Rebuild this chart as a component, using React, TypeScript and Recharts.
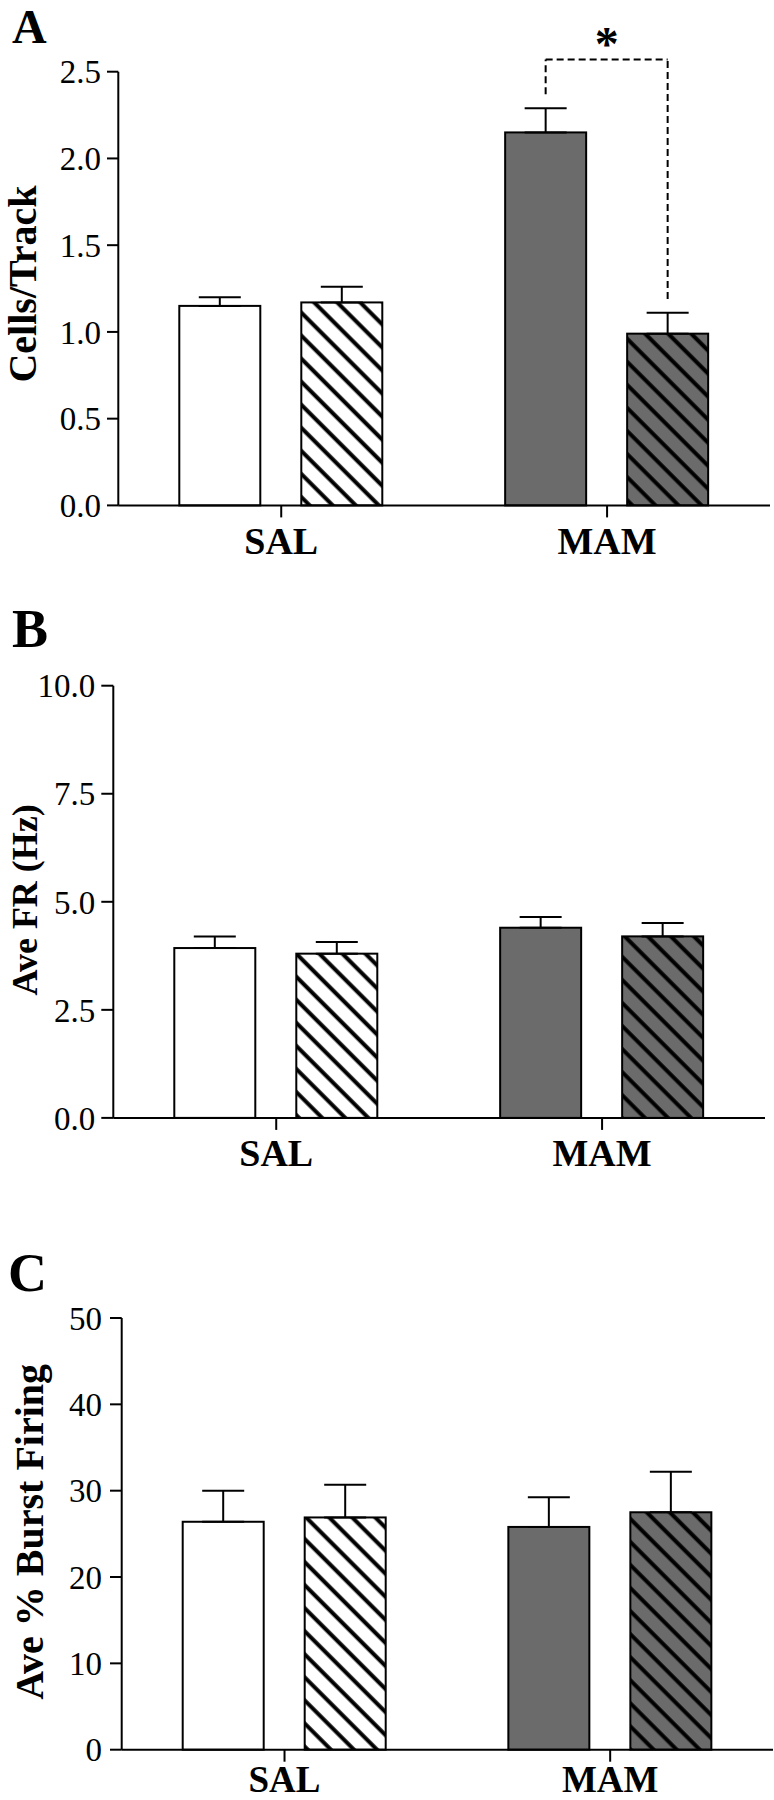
import { Bar, BarChart, ErrorBar, XAxis, YAxis } from "recharts";

const SERIF = "'Liberation Serif', serif";
const GRAY = "#6b6b6b";

const GROUPS = ["SAL", "MAM"];

// panel A: cells per track
const CELLS_CTRL = [1.15, 2.15];
const CELLS_CTRL_SEM = [0.05, 0.14];
const CELLS_DRUG = [1.17, 0.99];
const CELLS_DRUG_SEM = [0.09, 0.12];
const CELLS_TICKS = [0, 0.5, 1, 1.5, 2, 2.5];

// panel B: average firing rate
const FR_CTRL = [3.93, 4.4];
const FR_CTRL_SEM = [0.27, 0.25];
const FR_DRUG = [3.8, 4.2];
const FR_DRUG_SEM = [0.27, 0.31];
const FR_TICKS = [0, 2.5, 5, 7.5, 10];

// panel C: % burst firing
const BURST_CTRL = [26.4, 25.8];
const BURST_CTRL_SEM = [3.6, 3.45];
const BURST_DRUG = [26.9, 27.5];
const BURST_DRUG_SEM = [3.8, 4.7];
const BURST_TICKS = [0, 10, 20, 30, 40, 50];

// significance bracket in panel A (MAM ctrl vs MAM drug)
const SIG_GROUP = "MAM";
const SIG_TOP = 2.57;
const SIG_LEGS = [2.37, 1.19];
const SIG_MARK = "*";

const BAR_SIZE = 81;
const BAR_GAP = 41;

const CTRL_FILLS = ["#ffffff", GRAY];
const DRUG_FILLS = ["url(#hatch-white)", "url(#hatch-gray)"];

type Sig = { group: string; top: number; legs: number[]; mark: string };

function buildRows(ctrl: number[], ctrlSem: number[], drug: number[], drugSem: number[]) {
  return GROUPS.map((g, i) => ({
    group: g,
    ctrl: ctrl[i],
    ctrlErr: [0, ctrlSem[i]],
    drug: drug[i],
    drugErr: [0, drugSem[i]],
  }));
}

const dashed = { stroke: "#000", strokeWidth: 2, strokeDasharray: "7 4", fill: "none" };

function barShape(fills: string[], key: string, side: 0 | 1, sig?: Sig) {
  return (p: any) => {
    const { x, y, width, height, index, payload } = p;
    const val = payload[key];
    const base = y + height;
    const toPx = (v: number) => base - (v * height) / val;
    const cx = x + width / 2;
    const showSig = sig && payload.group === sig.group;
    return (
      <g>
        <rect x={x} y={y} width={width} height={height} fill={fills[index]} stroke="#000" strokeWidth={2} />
        {showSig && (
          <line x1={cx} y1={toPx(sig!.legs[side])} x2={cx} y2={toPx(sig!.top)} {...dashed} />
        )}
        {showSig && side === 0 && (
          <>
            <line x1={cx} y1={toPx(sig!.top)} x2={cx + width + BAR_GAP} y2={toPx(sig!.top)} {...dashed} />
            <text
              x={cx + (width + BAR_GAP) / 2}
              y={toPx(sig!.top)}
              textAnchor="middle"
              fontFamily={SERIF}
              fontWeight="bold"
              fontSize={48}
              fill="#000"
            >
              {sig!.mark}
            </text>
          </>
        )}
      </g>
    );
  };
}

function yLabel(text: string, size: number, bx: number, shift: number) {
  return (props: any) => {
    const vb = props.viewBox;
    const x = vb.x + bx;
    const cy = vb.y + vb.height / 2 + shift;
    return (
      <text
        x={x}
        y={cy}
        transform={`rotate(-90 ${x} ${cy})`}
        textAnchor="middle"
        fontFamily={SERIF}
        fontWeight="bold"
        fontSize={size}
        fill="#000"
      >
        {text}
      </text>
    );
  };
}

type PanelProps = {
  top: number;
  height: number;
  marginTop: number;
  marginRight: number;
  xHeight: number;
  xTickMargin: number;
  xFont: number;
  yWidth: number;
  yTickSize: number;
  yTickMargin: number;
  ticks: number[];
  digits: number;
  rows: any[];
  label: string;
  labelSize: number;
  labelX: number;
  labelShift: number;
  sig?: Sig;
};

function Panel(props: PanelProps) {
  const axisStyle = { stroke: "#000", strokeWidth: 2 };
  return (
    <div style={{ position: "absolute", left: 0, top: props.top }}>
      <BarChart
        width={774}
        height={props.height}
        data={props.rows}
        margin={{ top: props.marginTop, right: props.marginRight, bottom: 0, left: 0 }}
        barSize={BAR_SIZE}
        barGap={BAR_GAP}
      >
        <XAxis
          dataKey="group"
          height={props.xHeight}
          interval={0}
          axisLine={axisStyle}
          tickLine={axisStyle}
          tickSize={12}
          tickMargin={props.xTickMargin}
          tick={{ fontSize: props.xFont, fontWeight: "bold", fill: "#000", fontFamily: SERIF }}
        />
        <YAxis
          width={props.yWidth}
          domain={[props.ticks[0], props.ticks[props.ticks.length - 1]]}
          ticks={props.ticks}
          interval={0}
          tickFormatter={(v: number) => v.toFixed(props.digits)}
          axisLine={axisStyle}
          tickLine={axisStyle}
          tickSize={props.yTickSize}
          tickMargin={props.yTickMargin}
          tick={{ fontSize: 33, fill: "#000", fontFamily: SERIF }}
          label={yLabel(props.label, props.labelSize, props.labelX, props.labelShift)}
        />
        <Bar dataKey="ctrl" isAnimationActive={false} shape={barShape(CTRL_FILLS, "ctrl", 0, props.sig)}>
          <ErrorBar dataKey="ctrlErr" width={21} stroke="#000" strokeWidth={2} isAnimationActive={false} />
        </Bar>
        <Bar dataKey="drug" isAnimationActive={false} shape={barShape(DRUG_FILLS, "drug", 1, props.sig)}>
          <ErrorBar dataKey="drugErr" width={21} stroke="#000" strokeWidth={2} isAnimationActive={false} />
        </Bar>
      </BarChart>
    </div>
  );
}

export default function App() {
  const letter = { fontFamily: SERIF, fontWeight: "bold" as const, fill: "#000" };
  return (
    <div style={{ position: "absolute", left: 0, top: 0, width: 774, height: 1800, background: "#fff" }}>
      <svg width={0} height={0} style={{ position: "absolute" }}>
        <defs>
          <pattern id="hatch-white" patternUnits="userSpaceOnUse" width={16.3} height={16.3} patternTransform="rotate(45)">
            <rect width={16.3} height={16.3} fill="#ffffff" />
            <line x1={0} y1={8} x2={16.3} y2={8} stroke="#000" strokeWidth={4} />
          </pattern>
          <pattern id="hatch-gray" patternUnits="userSpaceOnUse" width={16.3} height={16.3} patternTransform="rotate(45)">
            <rect width={16.3} height={16.3} fill={GRAY} />
            <line x1={0} y1={8} x2={16.3} y2={8} stroke="#000" strokeWidth={4} />
          </pattern>
        </defs>
      </svg>

      <Panel
        top={0}
        height={580}
        marginTop={71.7}
        marginRight={4}
        xHeight={74.6}
        xTickMargin={9.6}
        xFont={38}
        yWidth={118.3}
        yTickSize={11.3}
        yTickMargin={6}
        ticks={CELLS_TICKS}
        digits={1}
        rows={buildRows(CELLS_CTRL, CELLS_CTRL_SEM, CELLS_DRUG, CELLS_DRUG_SEM)}
        label="Cells/Track"
        labelSize={40}
        labelX={36}
        labelShift={-4.5}
        sig={{ group: SIG_GROUP, top: SIG_TOP, legs: SIG_LEGS, mark: SIG_MARK }}
      />
      <Panel
        top={600}
        height={600}
        marginTop={85.7}
        marginRight={9}
        xHeight={82.1}
        xTickMargin={9.6}
        xFont={38}
        yWidth={113.3}
        yTickSize={12}
        yTickMargin={6}
        ticks={FR_TICKS}
        digits={1}
        rows={buildRows(FR_CTRL, FR_CTRL_SEM, FR_DRUG, FR_DRUG_SEM)}
        label="Ave FR (Hz)"
        labelSize={36}
        labelX={37}
        labelShift={-2}
      />
      <Panel
        top={1200}
        height={600}
        marginTop={118}
        marginRight={1}
        xHeight={50.3}
        xTickMargin={4}
        xFont={37}
        yWidth={121.7}
        yTickSize={11.7}
        yTickMargin={8}
        ticks={BURST_TICKS}
        digits={0}
        rows={buildRows(BURST_CTRL, BURST_CTRL_SEM, BURST_DRUG, BURST_DRUG_SEM)}
        label="Ave % Burst Firing"
        labelSize={40}
        labelX={43}
        labelShift={-2}
      />

      <svg width={774} height={1800} style={{ position: "absolute", left: 0, top: 0, pointerEvents: "none" }}>
        <text x={12} y={43} fontSize={48} {...letter}>A</text>
        <text x={12} y={647} fontSize={54} {...letter}>B</text>
        <text x={8} y={1291} fontSize={54} {...letter}>C</text>
      </svg>
    </div>
  );
}
